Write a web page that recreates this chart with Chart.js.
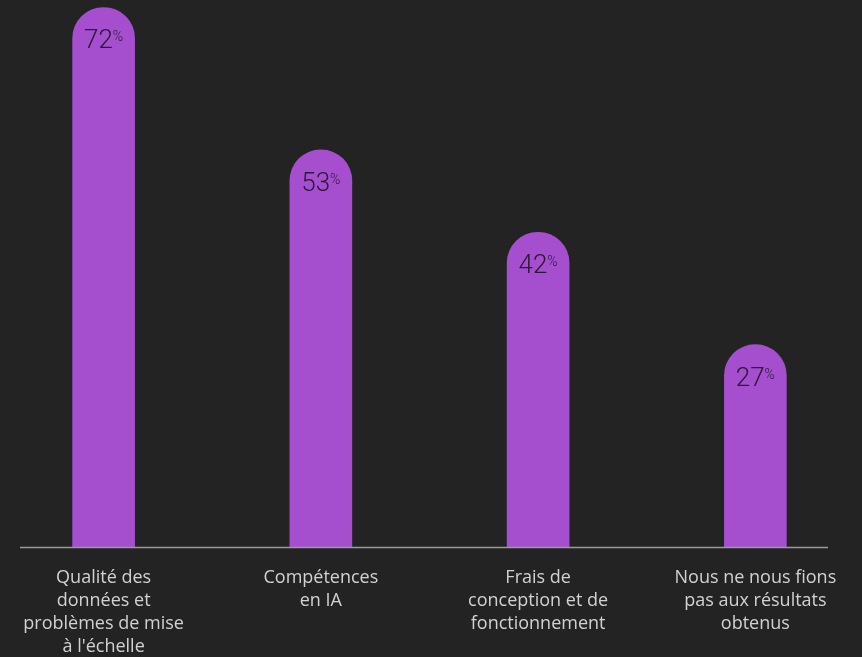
<!DOCTYPE html>
<html>
<head>
<meta charset="utf-8">
<script src="https://cdn.jsdelivr.net/npm/chart.js@4"></script>
<style>
  html, body { margin: 0; padding: 0; background: #232323; overflow: hidden; }
  #wrap { position: absolute; left: -5px; top: 0; width: 869px; height: 657px; }
</style>
</head>
<body>
<div id="wrap"><canvas id="myChart"></canvas></div>
<script>
// obstacles to AI adoption, share of respondents (%)
var categories = [
    ["Qualité des", "données et", "problèmes de mise", "à l'échelle"],
    ["Compétences", "en IA"],
    ["Frais de", "conception et de", "fonctionnement"],
    ["Nous ne nous fions", "pas aux résultats", "obtenus"]
];
var values = [72, 53, 42, 27];
var valueSuffix = "%";

var barColor = "#a54fce";
var textColor = "#d2d2d2";

// value label at the top of each bar, with a small raised % sign
var valueLabels = {
    id: "valueLabels",
    afterDatasetsDraw: function (chart) {
        var ctx = chart.ctx;
        var meta = chart.getDatasetMeta(0);
        var bigFont = "300 26px Roboto, 'Liberation Sans', sans-serif";
        var smallFont = "300 14px Roboto, 'Liberation Sans', sans-serif";
        ctx.save();
        meta.data.forEach(function (bar, i) {
            var num = String(values[i]);
            ctx.font = bigFont;
            var wNum = ctx.measureText(num).width;
            ctx.font = smallFont;
            var wPct = ctx.measureText(valueSuffix).width;
            var x0 = bar.x - (wNum + wPct) / 2;
            var base = bar.y + 41;
            ctx.fillStyle = "#2b1836";
            ctx.textBaseline = "alphabetic";
            ctx.textAlign = "left";
            ctx.font = bigFont;
            ctx.fillText(num, x0, base);
            ctx.font = smallFont;
            ctx.fillText(valueSuffix, x0 + wNum, base - 7);
        });

        // baseline under the bars
        var y = chart.scales.y.getPixelForValue(0);
        ctx.strokeStyle = "#9a9a9a";
        ctx.lineWidth = 1.5;
        ctx.beginPath();
        ctx.moveTo(25, y + 0.5);
        ctx.lineTo(833, y + 0.5);
        ctx.stroke();
        ctx.restore();
    }
};

var ctx = document.getElementById('myChart').getContext('2d');
new Chart(ctx, {
    type: "bar",
    data: {
        labels: categories,
        datasets: [{
            data: values,
            backgroundColor: barColor,
            barThickness: 62,
            borderRadius: { topLeft: 31, topRight: 31, bottomLeft: 0, bottomRight: 0 },
            borderSkipped: false
        }]
    },
    options: {
        responsive: true,
        maintainAspectRatio: false,
        animation: false,
        layout: { padding: 0 },
        plugins: {
            legend: { display: false },
            tooltip: { enabled: false }
        },
        scales: {
            x: {
                grid: { display: false, drawTicks: false },
                border: { display: false },
                ticks: {
                    color: textColor,
                    padding: 19,
                    maxRotation: 0,
                    autoSkip: false,
                    font: { family: "'Open Sans', sans-serif", size: 18, lineHeight: 1.28 }
                },
                afterFit: function (scale) { scale.height = 110; }
            },
            y: {
                display: false,
                min: 0,
                max: 73
            }
        }
    },
    plugins: [valueLabels]
});
</script>
</body>
</html>
